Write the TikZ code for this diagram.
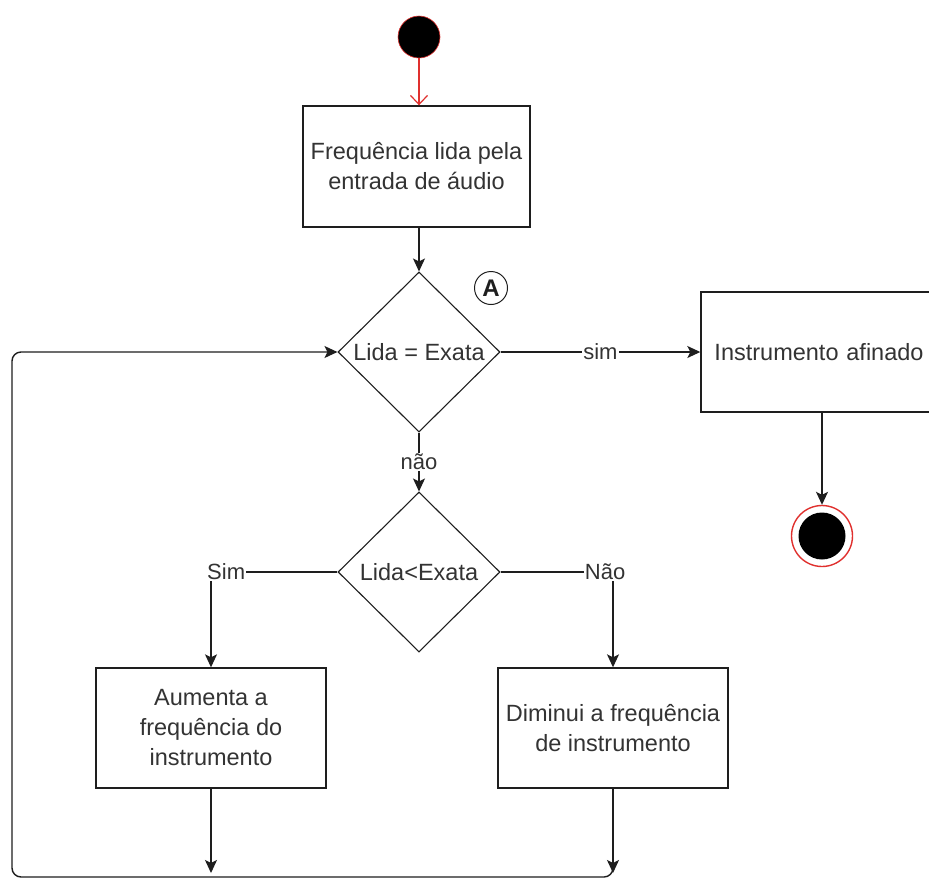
\documentclass[tikz,border=0pt]{standalone}
\usepackage{fontspec}
\setmainfont{Liberation Sans}
\usetikzlibrary{shapes.geometric,arrows.meta}
\definecolor{ink}{HTML}{1E1E1E}
\definecolor{txt}{HTML}{333333}
\definecolor{startred}{HTML}{E0302E}
\tikzset{
  base/.style={font=\fontsize{23.5}{30}\selectfont, text=txt},
  procbox/.style={base, draw=ink, line width=1.4pt, fill=white, rectangle, inner sep=0pt, align=center},
  decision/.style={base, draw=ink, line width=1.1pt, fill=white, diamond, inner sep=0pt,
                   minimum width=162pt, minimum height=160pt, align=center},
  flow/.style={draw=ink, line width=1.4pt, -{Stealth[length=13pt,width=12pt,inset=3pt]}},
  elabel/.style={base, fill=white, inner sep=1pt, font=\fontsize{22}{26}\selectfont}
}
\begin{document}
\begin{tikzpicture}[x=1pt,y=-1pt]
  \useasboundingbox (0,0) rectangle (929,879);
  \clip (0,0) rectangle (929,879);
  \fill[white] (0,0) rectangle (929,879);

  % start and end markers
  \node[circle, fill=black, draw=startred, line width=0.6pt, minimum size=42pt, inner sep=0pt] (start) at (419,37) {};
  \node[circle, draw=startred, line width=1.4pt, fill=white, minimum size=61pt, inner sep=0pt] (stop) at (822,536) {};
  \node[circle, fill=black, minimum size=47pt, inner sep=0pt] (stopdot) at (822,536) {};

  % process boxes
  \node[procbox, minimum width=227pt, minimum height=121pt] (read) at (416.5,166.5)
       {Frequência lida pela\\entrada de áudio};
  \node[procbox, minimum width=236pt, minimum height=120pt, text width=236pt] (tuned) at (819,352)
       {Instrumento afinado};
  \node[procbox, minimum width=230pt, minimum height=120pt] (raise) at (211,728)
       {Aumenta a\\frequência do\\instrumento};
  \node[procbox, minimum width=230pt, minimum height=120pt] (lower) at (613,728)
       {Diminui a frequência\\de instrumento};

  % decisions
  \node[decision] (equal) at (419,352) {Lida = Exata};
  \node[decision] (less) at (419,572) {Lida<Exata};

  % connector marker
  \node[circle, draw=ink, line width=1pt, minimum size=33pt, inner sep=0pt,
        font=\fontsize{24}{24}\selectfont\bfseries, text=ink] (markA) at (491,288) {A};

  % connectors
  \draw[startred, line width=1.2pt, -{Straight Barb[length=9pt,width=17pt]}] (start) -- (read.north -| start);
  \draw[flow] (read.south -| equal) -- (equal.north);
  \draw[flow] (equal.east) -- node[elabel] {sim} (tuned.west);
  \draw[flow] (equal.south) -- node[elabel] {não} (less.north);
  \draw[flow] (tuned.south -| stop) -- (stop.north);
  \draw[flow] (less.west) -| node[elabel, pos=0.44] {Sim} (raise.north);
  \draw[flow] (less.east) -| node[elabel, pos=0.465] {Não} (lower.north);

  % return loop back to the first decision
  \coordinate (raiseEnd) at (211,873);
  \coordinate (lowerEnd) at (613,873);
  \coordinate (loopStart) at (613,866);
  \coordinate (loopLeft) at (12,877);
  \draw[flow] (raise.south) -- (raiseEnd);
  \draw[flow] (lower.south) -- (lowerEnd);
  \draw[flow, rounded corners=9pt] (loopStart) -- (613,877) -- (loopLeft) -- (12,352) -- (equal.west);
\end{tikzpicture}
\end{document}
